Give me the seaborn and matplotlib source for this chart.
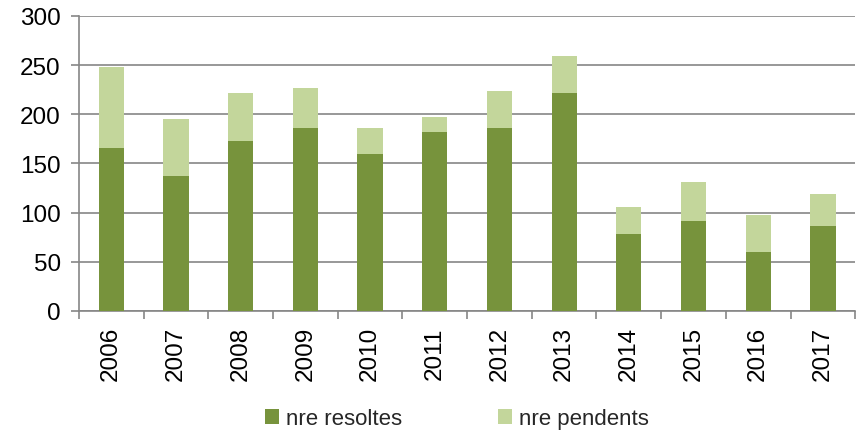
import matplotlib
matplotlib.use("Agg")
import matplotlib.pyplot as plt
import seaborn as sns
import pandas as pd
from matplotlib.patches import Patch

years = ["2006", "2007", "2008", "2009", "2010", "2011",
         "2012", "2013", "2014", "2015", "2016", "2017"]
resoltes = [166, 137, 173, 186, 160, 182, 186, 222, 78, 91, 60, 86]
pendents = [82, 58, 49, 41, 26, 15, 38, 37, 28, 40, 38, 33]

dark = "#77933C"
light = "#C3D69B"
gray = "#868686"

df = pd.DataFrame({"any": years, "resoltes": resoltes, "pendents": pendents})
df["total"] = df["resoltes"] + df["pendents"]

sns.set_theme(style="white")
plt.rcParams['font.family'] = ['Liberation Sans', 'DejaVu Sans']

fig = plt.figure(figsize=(8.57, 4.35), dpi=100)
ax = fig.add_axes([0.092, 0.283, 0.906, 0.678])

sns.barplot(data=df, x="any", y="total", color=light, width=0.39,
            saturation=1, ax=ax, zorder=3, linewidth=0)
sns.barplot(data=df, x="any", y="resoltes", color=dark, width=0.39,
            saturation=1, ax=ax, zorder=4, linewidth=0)

ax.set_ylim(0, 300)
ax.set_xlim(-0.5, len(years) - 0.5)
ax.set_yticks(range(0, 301, 50))
ax.yaxis.grid(True, color=gray, linewidth=1.2, zorder=0)
ax.set_axisbelow(True)
ax.set_xlabel("")
ax.set_ylabel("")

for s in ["top", "right"]:
    ax.spines[s].set_visible(False)
for s in ["left", "bottom"]:
    ax.spines[s].set_color(gray)
    ax.spines[s].set_linewidth(1.2)

ax.tick_params(axis="y", which="major", left=True, length=6, width=1.2,
               color=gray, labelsize=17.5, labelcolor="black", pad=7)
ax.tick_params(axis="x", which="major", bottom=False, labelsize=17.5,
               labelcolor="black", labelrotation=90, pad=5)
ax.set_xticks([i + 0.5 for i in range(-1, len(years))], minor=True)
ax.tick_params(axis="x", which="minor", bottom=True, length=6, width=1.2,
               color=gray)

handles = [Patch(facecolor=dark, edgecolor="none", label="nre resoltes"),
           Patch(facecolor=light, edgecolor="none", label="nre pendents")]
fig.legend(handles=handles, loc="center", bbox_to_anchor=(0.533, 0.035),
           ncol=2, frameon=False, fontsize=16, handlelength=0.65,
           handleheight=0.65, handletextpad=0.3, columnspacing=4.3)

fig.savefig("out.png", dpi=100)
